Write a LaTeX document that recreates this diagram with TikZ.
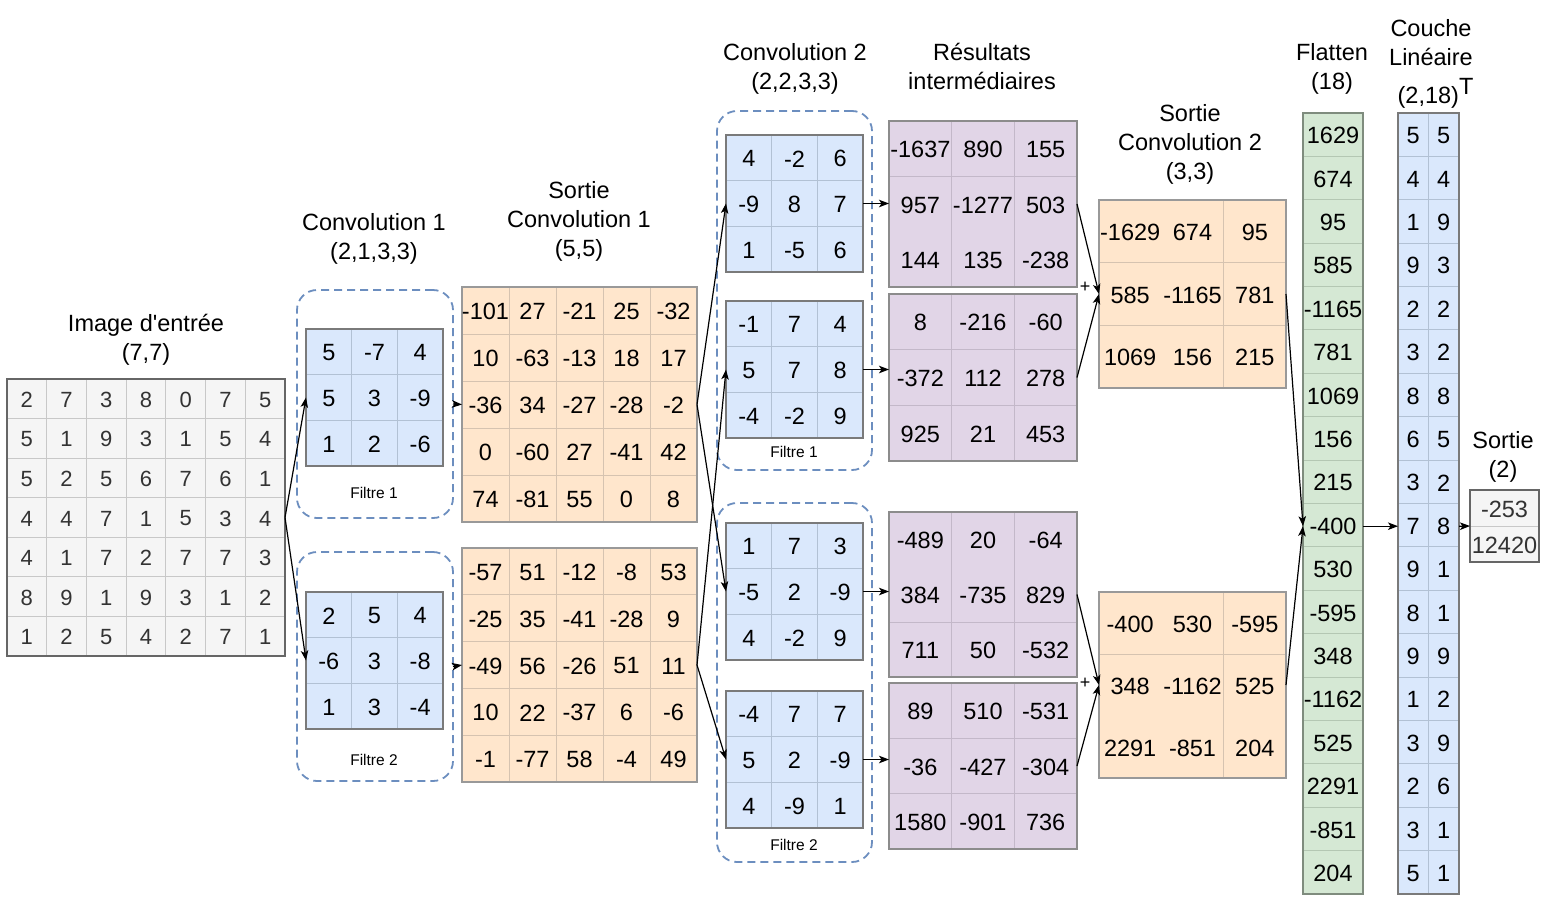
\documentclass[tikz,border=0pt]{standalone}
\usepackage{fontspec}
\setmainfont{Liberation Sans}
\usetikzlibrary{arrows.meta}
\definecolor{inF}{HTML}{F5F5F5}\definecolor{inB}{HTML}{666666}\definecolor{inL}{HTML}{C8C8C8}\definecolor{txg}{HTML}{333333}
\definecolor{blF}{HTML}{DAE8FC}\definecolor{blB}{HTML}{7A7A7A}\definecolor{blL}{HTML}{B2C1D4}
\definecolor{orF}{HTML}{FFE6CC}\definecolor{orB}{HTML}{999999}\definecolor{orL}{HTML}{D6C3B0}
\definecolor{puF}{HTML}{E1D5E7}\definecolor{puB}{HTML}{8C8C8C}\definecolor{puL}{HTML}{C3B8C9}
\definecolor{grnF}{HTML}{D5E8D4}\definecolor{grnB}{HTML}{7F8C7E}\definecolor{grnL}{HTML}{B4C7B3}
\definecolor{dashc}{HTML}{6C8EBF}
\tikzset{
  cellT/.style={inner sep=0pt, font=\fontsize{23.5}{28}\selectfont, text=black},
  inF/.style={fill=inF}, inL/.style={draw=inL, line width=0.9pt}, inB/.style={draw=inB, line width=1.2pt}, inT/.style={cellT, text=txg, font=\fontsize{22}{26}\selectfont},
  blF/.style={fill=blF}, blL/.style={draw=blL, line width=0.9pt}, blB/.style={draw=blB, line width=1.2pt}, blT/.style={cellT},
  orF/.style={fill=orF}, orL/.style={draw=orL, line width=0.9pt}, orB/.style={draw=orB, line width=1.2pt}, orT/.style={cellT},
  puF/.style={fill=puF}, puL/.style={draw=puL, line width=0.9pt}, puB/.style={draw=puB, line width=1.2pt}, puT/.style={cellT},
  grnF/.style={fill=grnF}, grnL/.style={draw=grnL, line width=0.9pt}, grnB/.style={draw=grnB, line width=1.2pt}, grnT/.style={cellT},
  ouF/.style={fill=inF}, ouL/.style={draw=inL, line width=0.9pt}, ouB/.style={draw=inB, line width=1.2pt}, ouT/.style={cellT, text=txg},
  title/.style={align=center, inner sep=0pt, font=\fontsize{23.5}{29}\selectfont},
  small/.style={inner sep=0pt, font=\fontsize{15.5}{18}\selectfont},
  plus/.style={inner sep=0pt, font=\fontsize{18}{20}\selectfont},
  dashbox/.style={draw=dashc, line width=1.8pt, dash pattern=on 8pt off 5pt, rounded corners=20pt, inner sep=0pt, outer sep=0pt, anchor=north west},
  arr/.style={-{Stealth[length=10pt,width=7.5pt,inset=2.5pt]}, line width=1.2pt, black},
}
% name, x0, y0, x1, y1, style prefix, vlines, hlines, data
\newcommand\mgrid[9]{%
  \foreach \mgrow [count=\mgr] in {#9} {\xdef\mgnr{\mgr}\foreach \mgv [count=\mgc] in \mgrow {\xdef\mgnc{\mgc}}}%
  \pgfmathsetmacro\mgw{(#4-#2)/\mgnc}%
  \pgfmathsetmacro\mgh{(#5-#3)/\mgnr}%
  \pgfmathsetmacro\mgW{#4-#2}%
  \pgfmathsetmacro\mgH{#5-#3}%
  \fill[#6F] (#2,#3) rectangle (#4,#5);%
  \foreach \k in {#7} {\draw[#6L] ({#2+\k*\mgw},#3) -- ({#2+\k*\mgw},#5);}%
  \foreach \k in {#8} {\draw[#6L] (#2,{#3+\k*\mgh}) -- (#4,{#3+\k*\mgh});}%
  \node[#6B, rectangle, inner sep=0pt, outer sep=0pt, minimum width=\mgW pt, minimum height=\mgH pt, anchor=north west] (#1) at (#2,#3) {};%
  \foreach \mgrow [count=\mgr] in {#9} {\foreach \mgv [count=\mgc] in \mgrow {\node[#6T] (#1-\mgr-\mgc) at ({#2+(\mgc-0.5)*\mgw},{#3+(\mgr-0.5)*\mgh+1}) {\mgv};}}%
}
\begin{document}
\begin{tikzpicture}[x=1pt,y=-1pt]
\useasboundingbox (0,0) rectangle (1562,902);
% titles
\node[title] (tin) at (146,340) {Image d\textquotesingle entrée\\(7,7)};
\node[title] (tc1) at (374,239) {Convolution 1\\(2,1,3,3)};
\node[title] (ts1) at (579,221.5) {Sortie\\Convolution 1\\(5,5)};
\node[title] (tc2) at (795,69) {Convolution 2\\(2,2,3,3)};
\node[title] (tri) at (982,66.5) {Résultats\\intermédiaires};
\node[title] (ts2) at (1190,144.5) {Sortie\\Convolution 2\\(3,3)};
\node[title] (tfl) at (1332,69) {Flatten\\(18)};
\node[title] (tli) at (1431,42.5) {Couche\\Linéaire};
\node[title, anchor=base] (tlt) at (1435.5,103) {(2,18)\raisebox{9pt}{T}};
\node[title] (tou) at (1503,457) {Sortie\\(2)};
% input
\mgrid{img}{7}{379}{285}{656}{in}{1,...,6}{1,...,6}{{2,7,3,8,0,7,5},{5,1,9,3,1,5,4},{5,2,5,6,7,6,1},{4,4,7,1,5,3,4},{4,1,7,2,7,7,3},{8,9,1,9,3,1,2},{1,2,5,4,2,7,1}}
% conv1
\node[dashbox, minimum width=156pt, minimum height=228pt] (d1) at (297,290) {};
\node[dashbox, minimum width=156pt, minimum height=229pt] (d2) at (297,552) {};
\mgrid{fa}{306}{329}{443}{466}{bl}{1,2}{1,2}{{5,-7,4},{5,3,-9},{1,2,-6}}
\mgrid{fb}{306}{592}{443}{729}{bl}{1,2}{1,2}{{2,5,4},{-6,3,-8},{1,3,-4}}
\node[small] (lfa) at (374,493) {Filtre 1};
\node[small] (lfb) at (374,760) {Filtre 2};
% sortie conv1
\mgrid{oa}{462}{287}{697}{522}{or}{1,...,4}{1,...,4}{{-101,27,-21,25,-32},{10,-63,-13,18,17},{-36,34,-27,-28,-2},{0,-60,27,-41,42},{74,-81,55,0,8}}
\mgrid{ob}{462}{548}{697}{782}{or}{1,...,4}{1,...,4}{{-57,51,-12,-8,53},{-25,35,-41,-28,9},{-49,56,-26,51,11},{10,22,-37,6,-6},{-1,-77,58,-4,49}}
% conv2
\node[dashbox, minimum width=155pt, minimum height=359pt] (e1) at (717,111) {};
\node[dashbox, minimum width=155pt, minimum height=359pt] (e2) at (717,503) {};
\mgrid{ka}{726}{135}{863}{272}{bl}{1,2}{1,2}{{4,-2,6},{-9,8,7},{1,-5,6}}
\mgrid{kb}{726}{301}{863}{438}{bl}{1,2}{1,2}{{-1,7,4},{5,7,8},{-4,-2,9}}
\mgrid{kc}{726}{523}{863}{660}{bl}{1,2}{1,2}{{1,7,3},{-5,2,-9},{4,-2,9}}
\mgrid{kd}{726}{691}{863}{828}{bl}{1,2}{1,2}{{-4,7,7},{5,2,-9},{4,-9,1}}
\node[small] (lka) at (794,452) {Filtre 1};
\node[small] (lkb) at (794,845) {Filtre 2};
% intermediate
\mgrid{ra}{889}{121}{1077}{287}{pu}{1,2}{1}{{-1637,890,155},{957,-1277,503},{144,135,-238}}
\mgrid{rb}{889}{294}{1077}{461}{pu}{1,2}{1,2}{{8,-216,-60},{-372,112,278},{925,21,453}}
\mgrid{rc}{889}{512}{1077}{677}{pu}{1,2}{2}{{-489,20,-64},{384,-735,829},{711,50,-532}}
\mgrid{rd}{889}{683}{1077}{849}{pu}{1,2}{1,2}{{89,510,-531},{-36,-427,-304},{1580,-901,736}}
% sortie conv2
\mgrid{sa}{1099}{200}{1286}{388}{or}{2}{1,2}{{-1629,674,95},{585,-1165,781},{1069,156,215}}
\mgrid{sb}{1099}{592}{1286}{778}{or}{2}{1}{{-400,530,-595},{348,-1162,525},{2291,-851,204}}
% flatten
\mgrid{fl}{1303}{113}{1363}{894}{grn}{0}{1,...,17}{{1629},{674},{95},{585},{-1165},{781},{1069},{156},{215},{-400},{530},{-595},{348},{-1162},{525},{2291},{-851},{204}}
% linear
\mgrid{li}{1398}{113}{1459}{894}{bl}{1}{1,...,17}{{5,5},{4,4},{1,9},{9,3},{2,2},{3,2},{8,8},{6,5},{3,2},{7,8},{9,1},{8,1},{9,9},{1,2},{3,9},{2,6},{3,1},{5,1}}
% output
\mgrid{ou}{1470}{490}{1539}{562}{ou}{0}{1}{{-253},{12420}}
% connectors
\draw[arr] (img.east) -- (fa.west);
\draw[arr] (img.east) -- (fb.west);
\draw[arr] (d1.east) -- (oa.west);
\draw[arr] (d2.east) -- (ob.west);
\draw[arr] (oa.east) -- (ka.west);
\draw[arr] (oa.east) -- (kc.west);
\draw[arr] (ob.east) -- (kb.west);
\draw[arr] (ob.east) -- (kd.west);
\draw[arr] (ka.east) -- (ka.east -| ra.west);
\draw[arr] (kb.east) -- (kb.east -| rb.west);
\draw[arr] (kc.east) -- (kc.east -| rc.west);
\draw[arr] (kd.east) -- (kd.east -| rd.west);
\draw[arr] (ra.east) -- (sa.west);
\draw[arr] (rb.east) -- (sa.west);
\draw[arr] (rc.east) -- (sb.west);
\draw[arr] (rd.east) -- (sb.west);
\node[plus] (pa) at (1085,287) {+};
\node[plus] (pb) at (1085,683) {+};
\coordinate (flin) at (fl.west |- fl-10-1);
\coordinate (flout) at (fl.east |- fl-10-1);
\coordinate (liin) at (li.west |- fl-10-1);
\coordinate (liout) at (li.east |- fl-10-1);
\draw[arr] (sa.east) -- (flin);
\draw[arr] (sb.east) -- (flin);
\draw[arr] (flout) -- (liin);
\draw[arr] (liout) -- (ou.west);
\end{tikzpicture}
\end{document}
